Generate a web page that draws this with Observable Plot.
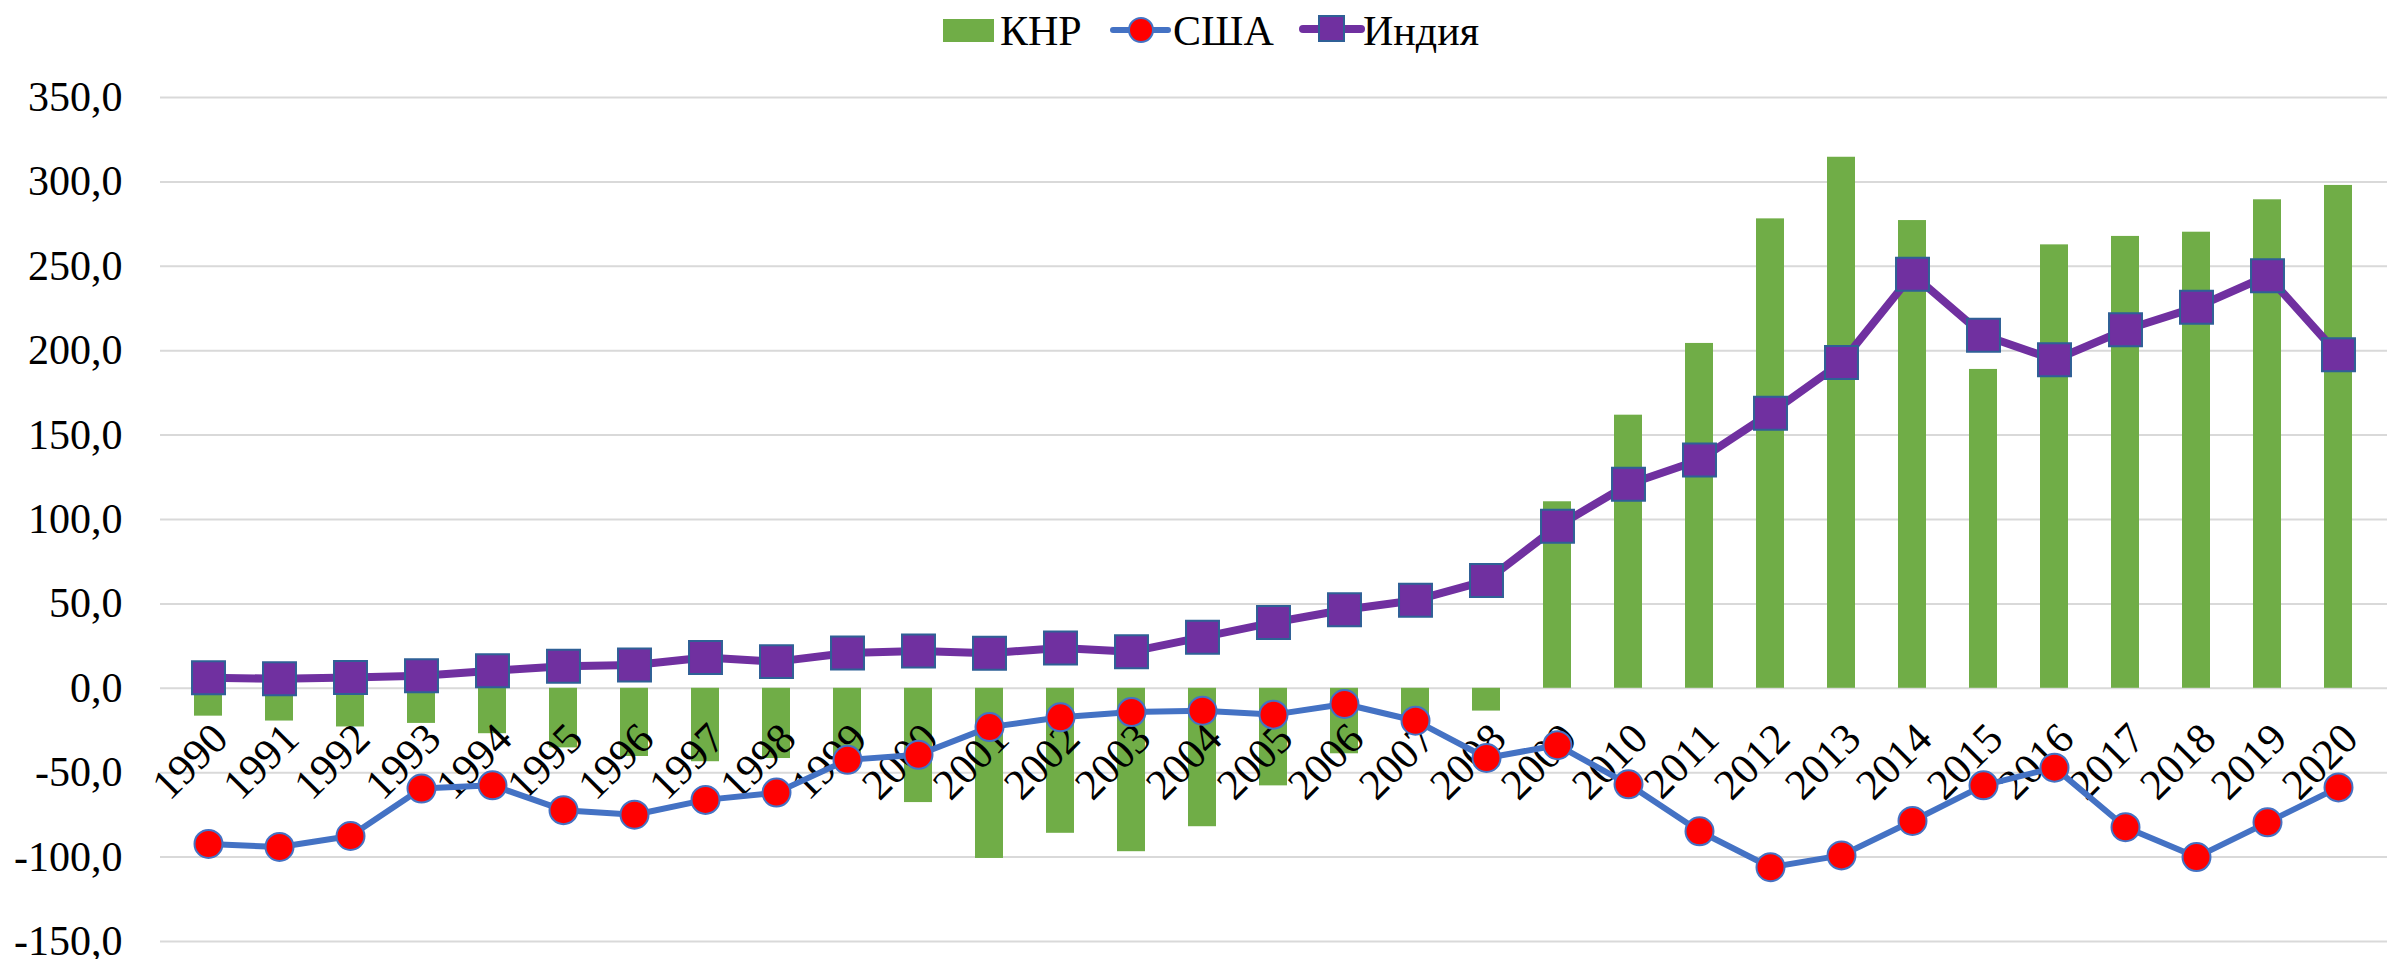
<!DOCTYPE html>
<html>
<head>
<meta charset="utf-8">
<script src="https://cdn.jsdelivr.net/npm/d3@7"></script>
<script src="https://cdn.jsdelivr.net/npm/@observablehq/plot@0.6"></script>
<style>
  html, body { margin: 0; padding: 0; background: #fff; }
  #legend, #legend svg { display: block; height: 60px; }
  #chart svg { display: block; }
</style>
</head>
<body>
<div id="legend"></div>
<div id="chart"></div>
<script>
// ---- data ----
const years = [1990, 1991, 1992, 1993, 1994, 1995, 1996, 1997, 1998, 1999,
               2000, 2001, 2002, 2003, 2004, 2005, 2006, 2007, 2008, 2009,
               2010, 2011, 2012, 2013, 2014, 2015, 2016, 2017, 2018, 2019, 2020];
const china = [-16.5, -19.4, -22.9, -20.8, -26.9, -35.3, -40.4, -43.5, -41.6, -44,
               -67.7, -100.8, -85.9, -96.8, -82, -57.8, -38.8, -20, -13.5, 110.5,
               161.8, 204.3, 278.1, 314.6, 277.1, 188.9, 262.7, 267.7, 270.2, 289.4, 297.9];
const usa = [-92.2, -94, -87.5, -59.4, -57.5, -72.2, -74.9, -66.1, -61.8, -42.4,
             -39.4, -23, -17.2, -14.1, -13.3, -15.6, -9.3, -19.2, -41.3, -33.7,
             -56.9, -84.7, -106, -99, -78.6, -57.5, -47, -82.3, -100, -79.4, -58.7];
const india = [6.2, 5.7, 6.4, 7.4, 10.4, 13.0, 13.8, 18.2, 15.8, 20.9,
               22.1, 20.8, 23.9, 21.7, 30.3, 39.0, 46.5, 52.2, 63.8, 96.0,
               120.9, 135.3, 163.0, 193.0, 245.3, 209.2, 194.6, 212.4, 225.8, 244.4, 197.6];
const yTicks = [-150, -100, -50, 0, 50, 100, 150, 200, 250, 300, 350];
const seriesNames = ["КНР", "США", "Индия"];

// ---- styles ----
const FONT = '"Liberation Serif", "Times New Roman", serif';
const C_CHINA = "#70AD47";
const C_USA = "#4472C4";
const C_INDIA = "#7030A0";

const rows = years.map((y, i) => ({year: y, china: china[i], usa: usa[i], india: india[i]}));

// ---- legend (above the chart) ----
const W = 2387;
const leg = d3.select("#legend").append("svg")
  .attr("width", W).attr("height", 60)
  .style("font-family", FONT).style("font-size", "42px");
leg.append("rect").attr("x", 943).attr("y", 19).attr("width", 51).attr("height", 23).attr("fill", C_CHINA);
leg.append("text").attr("x", 1000).attr("y", 45).text(seriesNames[0]);
leg.append("line").attr("x1", 1113).attr("x2", 1168).attr("y1", 30).attr("y2", 30)
  .attr("stroke", C_USA).attr("stroke-width", 6).attr("stroke-linecap", "round");
leg.append("circle").attr("cx", 1141).attr("cy", 30).attr("r", 12)
  .attr("fill", "#FF0000").attr("stroke", C_USA).attr("stroke-width", 2);
leg.append("text").attr("x", 1173).attr("y", 45).text(seriesNames[1]);
leg.append("line").attr("x1", 1303).attr("x2", 1361).attr("y1", 29).attr("y2", 29)
  .attr("stroke", C_INDIA).attr("stroke-width", 8).attr("stroke-linecap", "round");
leg.append("rect").attr("x", 1319).attr("y", 16).attr("width", 25).attr("height", 25)
  .attr("fill", C_INDIA).attr("stroke", "#2F6096").attr("stroke-width", 2);
leg.append("text").attr("x", 1363).attr("y", 45).text(seriesNames[2]);

// ---- chart ----
const chart = Plot.plot({
  width: W,
  height: 899,
  marginLeft: 160,
  marginRight: 0,
  marginTop: 37,
  marginBottom: 18,
  style: {fontFamily: FONT, fontSize: "42px", color: "#000", background: "#fff"},
  x: {type: "band", domain: years, paddingInner: 0.6, paddingOuter: 0.3, axis: null},
  y: {domain: [-150, 350], ticks: yTicks, tickSize: 0, tickPadding: 38,
      tickFormat: d => d.toFixed(1).replace(".", ","), label: null},
  marks: [
    Plot.ruleY(yTicks, {stroke: "#D9D9D9", strokeWidth: 2}),
    Plot.barY(rows, {x: "year", y: "china", fill: C_CHINA}),
    Plot.text(rows, {x: "year", y: () => 0, text: d => String(d.year), rotate: -45,
      textAnchor: "end", dx: 12, dy: 43, fontSize: 43, fill: "#000"}),
    Plot.line(rows, {x: "year", y: "usa", stroke: C_USA, strokeWidth: 6}),
    Plot.dot(rows, {x: "year", y: "usa", r: 14, fill: "#FF0000", stroke: C_USA, strokeWidth: 2}),
    Plot.line(rows, {x: "year", y: "india", stroke: C_INDIA, strokeWidth: 8}),
    Plot.dot(rows, {x: "year", y: "india", symbol: "square", r: 18.6, fill: C_INDIA,
      stroke: "#2F6096", strokeWidth: 2})
  ]
});
document.getElementById("chart").appendChild(chart);
</script>
</body>
</html>
